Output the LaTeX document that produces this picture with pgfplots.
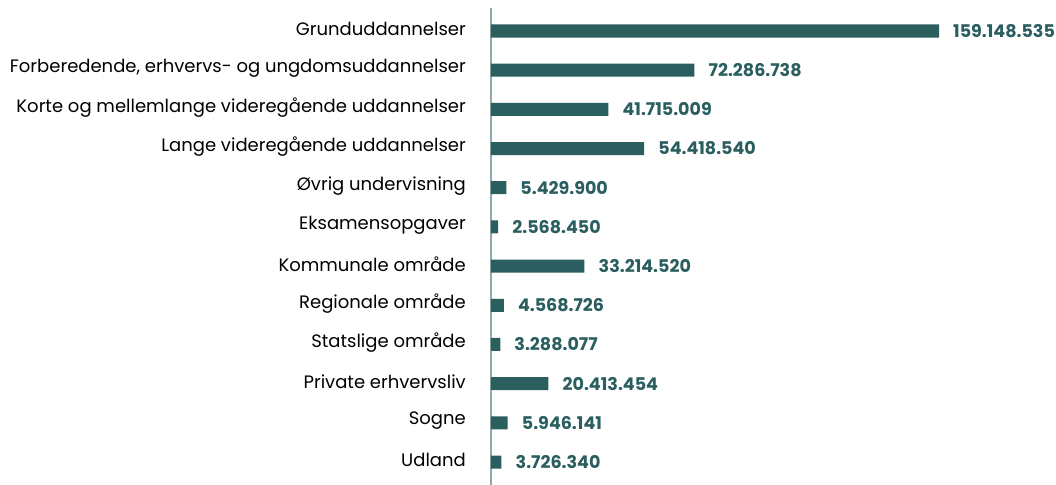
\documentclass[border=0pt]{standalone}
\usepackage{fontspec}
\setmainfont{Poppins}
\usepackage{pgfplots}
\pgfplotsset{compat=1.18}
\definecolor{bar}{HTML}{2B5E5F}
\definecolor{axisln}{HTML}{8FA8A9}

\begin{document}
\begin{tikzpicture}
\begin{axis}[
    at={(0,0)}, anchor=south west,
    scale only axis, width=506.7bp, height=477bp,
    xbar, bar width=13bp,
    xmin=0, xmax=180000000,
    ymin=-0.587, ymax=11.587, y dir=reverse,
    axis x line=none, axis y line*=left,
    y axis line style={draw=axisln, line width=1.2bp},
    ytick={0,...,11}, major tick length=0pt,
    yticklabels={Grunduddannelser,
      {Forberedende, erhvervs- og ungdomsuddannelser},
      Korte og mellemlange videregående uddannelser,
      Lange videregående uddannelser,
      Øvrig undervisning,
      Eksamensopgaver,
      Kommunale område,
      Regionale område,
      Statslige område,
      Private erhvervsliv,
      Sogne,
      Udland},
    yticklabel style={anchor=east, inner sep=0pt, xshift=-25bp, yshift=2bp,
      font=\fontsize{18bp}{21bp}\selectfont, text=black},
    point meta=explicit symbolic,
    nodes near coords,
    nodes near coords style={anchor=west, inner sep=0pt, xshift=14bp,
      font=\fontsize{17.5bp}{21bp}\selectfont\bfseries, text=bar},
    clip=false,
]
\addplot[fill=bar, draw=none] coordinates {
    (159148535,0)  [159.148.535]
    (72286738,1)   [72.286.738]
    (41715009,2)   [41.715.009]
    (54418540,3)   [54.418.540]
    (5429900,4)    [5.429.900]
    (2568450,5)    [2.568.450]
    (33214520,6)   [33.214.520]
    (4568726,7)    [4.568.726]
    (3288077,8)    [3.288.077]
    (20413454,9)   [20.413.454]
    (5946141,10)   [5.946.141]
    (3726340,11)   [3.726.340]
};
\end{axis}
\pgfresetboundingbox
\path (-491bp,0) rectangle (565bp,485bp);
\end{tikzpicture}
\end{document}
